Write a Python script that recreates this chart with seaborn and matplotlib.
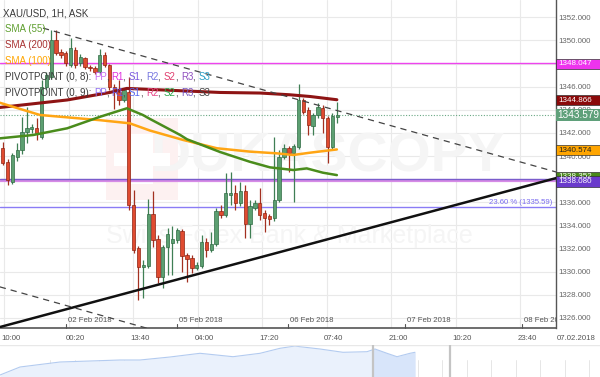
import matplotlib
matplotlib.use("Agg")
import matplotlib.pyplot as plt
import matplotlib.transforms as mtransforms
from matplotlib.patches import Rectangle
import numpy as np
import pandas as pd
import seaborn as sns

# ---------------- data ----------------
opens = [1340.67, 1339.51, 1337.78, 1339.94, 1340.52, 1342.10, 1342.31, 1342.40, 1341.67, 1346.00,
         1346.86, 1350.04, 1349.03, 1348.88, 1347.87, 1349.17, 1348.02, 1348.45, 1347.73, 1347.59,
         1347.30, 1348.74, 1347.87, 1346.00, 1345.57, 1344.85, 1345.57, 1335.76, 1332.00, 1330.43,
         1330.50, 1334.96, 1332.80, 1329.56, 1332.10, 1332.45, 1332.74, 1333.52, 1331.44, 1331.21,
         1330.34, 1330.49, 1332.59, 1331.87, 1332.36, 1335.27, 1334.90, 1336.60, 1336.83, 1335.91,
         1337.00, 1334.12, 1335.50, 1335.90, 1335.04, 1334.80, 1334.61, 1336.20, 1339.89, 1340.66,
         1340.23, 1340.81, 1344.85, 1343.98, 1342.60, 1343.55, 1344.13, 1343.26, 1340.81, 1343.35]
highs = [1341.24, 1339.70, 1340.30, 1341.10, 1343.40, 1344.27, 1342.80, 1343.26, 1346.58, 1347.30,
         1350.90, 1350.90, 1349.30, 1349.10, 1350.18, 1349.40, 1348.80, 1348.60, 1347.90, 1347.80,
         1349.30, 1349.03, 1348.00, 1346.20, 1346.58, 1345.90, 1346.86, 1337.06, 1332.20, 1331.00,
         1336.25, 1336.97, 1333.17, 1332.30, 1333.75, 1333.95, 1333.75, 1333.70, 1331.60, 1331.40,
         1330.80, 1333.17, 1332.88, 1333.46, 1335.47, 1335.76, 1338.50, 1338.65, 1337.50, 1337.78,
         1337.50, 1336.20, 1336.20, 1337.20, 1335.30, 1335.00, 1341.67, 1340.52, 1341.00, 1340.90,
         1341.00, 1346.23, 1345.00, 1344.20, 1343.70, 1344.55, 1344.40, 1343.50, 1343.70, 1344.70]
lows = [1339.20, 1337.49, 1337.60, 1339.60, 1340.20, 1341.10, 1342.00, 1341.38, 1341.50, 1345.80,
        1346.70, 1348.70, 1348.50, 1347.80, 1347.70, 1347.60, 1347.80, 1347.50, 1347.40, 1347.10,
        1347.10, 1347.70, 1345.70, 1344.10, 1344.40, 1344.70, 1335.33, 1331.60, 1327.55, 1327.69,
        1330.30, 1332.16, 1328.99, 1328.55, 1329.70, 1329.70, 1332.50, 1329.99, 1329.13, 1329.85,
        1330.10, 1330.30, 1331.30, 1331.70, 1332.20, 1334.60, 1334.70, 1335.76, 1335.30, 1335.70,
        1332.88, 1332.88, 1335.30, 1334.50, 1333.46, 1334.00, 1334.40, 1336.00, 1339.70, 1338.65,
        1336.05, 1340.60, 1343.60, 1341.80, 1341.80, 1343.30, 1341.96, 1339.37, 1340.60, 1342.85]
closes = [1339.37, 1337.93, 1340.09, 1340.52, 1342.10, 1342.40, 1342.48, 1341.96, 1346.00, 1347.00,
          1350.04, 1348.88, 1348.74, 1348.02, 1349.32, 1347.87, 1348.60, 1347.73, 1347.59, 1347.30,
          1348.74, 1347.87, 1346.00, 1345.57, 1344.85, 1345.71, 1335.77, 1331.87, 1330.43, 1330.57,
          1334.96, 1332.74, 1329.56, 1332.10, 1333.23, 1332.82, 1333.60, 1331.35, 1331.06, 1330.28,
          1330.57, 1332.59, 1331.87, 1332.39, 1335.27, 1334.90, 1336.77, 1336.83, 1335.97, 1337.00,
          1334.12, 1335.67, 1335.90, 1334.90, 1334.61, 1334.52, 1336.20, 1339.89, 1340.66, 1340.23,
          1340.87, 1344.85, 1343.84, 1342.68, 1343.55, 1344.27, 1343.26, 1340.81, 1343.46, 1343.58]

# moving averages read at selected bars (bar index, price)
sma55_bar = [-0.6, 6.3, 13.3, 20.1, 25.6, 28.9, 30.4, 36.6, 38.0, 44.8, 50.9, 55.1, 59.9, 62.7, 66.0, 68.9]
sma55_val = [1341.53, 1341.82, 1342.40, 1343.40, 1344.13, 1343.55, 1343.20, 1341.82, 1341.45, 1340.35,
             1339.51, 1339.02, 1338.79, 1338.93, 1338.56, 1338.35]
sma100_bar = [-0.6, 7.7, 20.1, 26.2, 30.4, 37.2, 44.2, 51.0, 56.6, 59.9, 63.4, 68.9]
sma100_val = [1344.61, 1343.55, 1343.10, 1342.83, 1342.20, 1341.39, 1340.67, 1340.38, 1340.23, 1340.09,
              1340.29, 1340.57]
sma200_bar = [-0.6, 13.3, 22.1, 25.6, 36.6, 44.8, 53.1, 59.2, 63.4, 68.9]
sma200_val = [1344.20, 1344.85, 1345.50, 1345.85, 1345.65, 1345.50, 1345.45, 1345.30, 1345.15, 1344.87]

# trend lines: (bar, price) end points
upper_dash = [(8.3, 1351.07), (114.1, 1338.62)]
lower_dash = [(-0.6, 1328.68), (45.0, 1323.30)]
support_line = [(-0.6, 1325.20), (114.1, 1338.09)]

# horizontal levels
pivot_r1 = 1348.047
pivot_s_a = 1338.05
pivot_s_b = 1337.82
fib_level = 1335.59
last_price = 1343.579

# right-side value tags: (text, price, face, text colour, height)
tags = [("1348.047", 1348.00, "#ee33ee", "white", 0.86),
        ("1344.866", 1344.82, "#8b0a0a", "white", 0.86),
        ("1340.574", 1340.52, "#ffa500", "#222222", 0.86),
        ("1338.352", 1338.20, "#4a8a1a", "white", 0.86),
        ("1338.080", 1337.80, "#6a3acc", "white", 1.00)]

y_ticks = [1326, 1328, 1330, 1332, 1334, 1336, 1338, 1340, 1342, 1344, 1346, 1348, 1350, 1352]
hidden_ticks = [1338, 1348]   # fully covered by value tags in the reference
time_labels = ["10:00", "00:20", "13:40", "04:00", "17:20", "07:40", "21:00", "10:20", "23:40"]
date_labels = ["02 Feb 2018", "05 Feb 2018", "06 Feb 2018", "07 Feb 2018", "08 Feb 2018"]
date_bars = [13.05, 35.9, 58.9, 82.95, 107.0]

nav_t = [0, 20, 60, 120, 140, 170, 200, 233, 260, 280, 295, 300, 320, 343, 367, 375, 387, 397, 410, 415]
nav_h = [2, 10, 15, 17, 17, 20, 23.7, 20.3, 23.7, 28.7, 31, 30.3, 28, 24.7, 25.3, 28, 23.7, 20.3, 23.7, 24.7]

# ---------------- style ----------------
sns.set_style("white")
plt.rcParams['font.family'] = ['Liberation Sans', 'DejaVu Sans']

W, H = 600, 377
fig = plt.figure(figsize=(W / 100, H / 100), dpi=100)
plot_w, plot_h = 556, 328
ax = fig.add_axes([0, 1 - plot_h / H, plot_w / W, plot_h / H])

def px2bar(px):
    return (px - 2.7) / 4.85

ax.set_xlim(px2bar(0), px2bar(plot_w))
ax.set_ylim(1325.12, 1353.5)

# grid
for yv in y_ticks:
    ax.axhline(yv, color="#e9e9e9", lw=0.8, zorder=0)
for k in range(9):
    ax.axvline(px2bar(4 + 64.5 * k), color="#e9e9e9", lw=0.8, zorder=0)

# watermark
ax.add_patch(Rectangle((0.19, 0.39), 0.13, 0.25, transform=ax.transAxes,
                       facecolor="#fdf1f1", edgecolor="none", zorder=0.5))
ax.add_patch(Rectangle((0.235, 0.44), 0.04, 0.15, transform=ax.transAxes,
                       facecolor="white", edgecolor="none", zorder=0.6))
ax.add_patch(Rectangle((0.205, 0.495), 0.1, 0.04, transform=ax.transAxes,
                       facecolor="white", edgecolor="none", zorder=0.6))
ax.text(0.59, 0.52, "DUKASCOPY", transform=ax.transAxes, ha="center", va="center",
        fontsize=40, fontweight="bold", color="#f5f5f5", zorder=0.5)
ax.text(0.52, 0.28, "Swiss Forex Bank & Marketplace", transform=ax.transAxes, ha="center",
        va="center", fontsize=18, color="#f5f5f5", zorder=0.5)

# horizontal levels
ax.axhline(pivot_r1, color="#ee44ee", lw=1.0, zorder=2)
ax.axhline(pivot_s_b, color="#d68be6", lw=1.6, zorder=2)
ax.axhline(pivot_s_a, color="#7a5ccc", lw=1.0, zorder=2)
ax.axhline(fib_level, color="#8a7cf5", lw=1.0, zorder=2)
ax.axhline(last_price, color="#6aa884", lw=0.8, ls=(0, (1, 1.5)), zorder=2)
ax.text(px2bar(552), fib_level + 0.12, "23.60 % (1335.59)", ha="right", va="bottom",
        fontsize=5.6, color="#7a6cf0", zorder=6)

# candles
df = pd.DataFrame({"o": opens, "h": highs, "l": lows, "c": closes})
df["bar"] = np.arange(len(df))
up = df["c"] >= df["o"]
green_face, green_edge = "#5c9f71", "#2f6b43"
red_face, red_edge = "#e04b30", "#8e2412"
ax.vlines(df["bar"], df["l"], df["h"], colors=np.where(up, "#3f7f54", "#a33020"), lw=0.9, zorder=3)
body_h = (df["c"] - df["o"]).abs().clip(lower=0.08)
ax.bar(df["bar"], body_h, bottom=df[["o", "c"]].min(axis=1), width=0.7,
       color=np.where(up, green_face, red_face), edgecolor=np.where(up, green_edge, red_edge),
       linewidth=0.5, zorder=4)

# moving averages
sns.lineplot(x=sma200_bar, y=sma200_val, ax=ax, color="#8e1414", lw=2.2, zorder=5)
sns.lineplot(x=sma100_bar, y=sma100_val, ax=ax, color="#ffa514", lw=1.8, zorder=5)
sns.lineplot(x=sma55_bar, y=sma55_val, ax=ax, color="#4a8c1c", lw=1.8, zorder=5)

# trend lines
for seg, style in [(upper_dash, dict(color="#444444", lw=0.9, ls=(0, (5, 4)))),
                   (lower_dash, dict(color="#444444", lw=0.9, ls=(0, (5, 4)))),
                   (support_line, dict(color="#111111", lw=1.8, ls="-"))]:
    ax.plot([seg[0][0], seg[1][0]], [seg[0][1], seg[1][1]], zorder=6, **style)

# axes / ticks
for s in ["left", "top"]:
    ax.spines[s].set_visible(False)
ax.spines["bottom"].set_color("#555555")
ax.spines["bottom"].set_linewidth(1.2)
ax.spines["right"].set_color("#555555")
ax.spines["right"].set_linewidth(1.0)
ax.yaxis.tick_right()
ax.set_yticks(y_ticks)
ax.set_yticklabels(["" if v in hidden_ticks else f"{v:.3f}" for v in y_ticks])
ax.tick_params(axis="y", length=0, pad=2, labelsize=5.7, labelcolor="#666666")
ax.set_xticks([px2bar(11 + 64.5 * k) for k in range(len(time_labels))])
ax.set_xticklabels(time_labels)
ax.tick_params(axis="x", length=0, pad=5, labelsize=5.6, labelcolor="#555555")
ax.set_xlabel("")
ax.set_ylabel("")

# date labels inside plot
blend = mtransforms.blended_transform_factory(ax.transData, ax.transAxes)
for lab, b in zip(date_labels, date_bars):
    ax.plot([b, b], [0, 0.012], transform=blend, color="#555555", lw=0.8, zorder=7, clip_on=False)
    ax.text(b + 0.4, 0.012, lab, transform=blend, ha="left", va="bottom", fontsize=5.6,
            color="#555555", zorder=7, clip_on=True)

# value tags on the right axis
tblend = mtransforms.blended_transform_factory(ax.transAxes, ax.transData)
for txt, val, fc, tc, hh in tags:
    ax.add_patch(Rectangle((1.0, val - hh / 2), 44 / plot_w, hh, transform=tblend, clip_on=False,
                           facecolor=fc, edgecolor="#333333", lw=0.5, zorder=10))
    ax.text(1.0 + 2 / plot_w, val, txt, transform=tblend, ha="left", va="center", fontsize=5.8,
            color=tc, zorder=11, clip_on=False)
ax.add_patch(Rectangle((1.0, last_price - 0.52), 44 / plot_w, 1.04, transform=tblend, clip_on=False,
                       facecolor="#5fa07a", edgecolor="none", zorder=10))
ax.text(1.0 + 1 / plot_w, last_price, f"{last_price:.3f}", transform=tblend, ha="left", va="center",
        fontsize=7.2, color="white", zorder=11, clip_on=False)

fig.text(557 / W, 1 - 339 / H, "07.02.2018", ha="left", va="center", fontsize=5.6, color="#555555")

# legend block (multi-coloured text)
renderer = fig.canvas.get_renderer()

def text_w(s, fs):
    t = fig.text(0, 0, s, fontsize=fs)
    w = t.get_window_extent(renderer=renderer).width
    t.remove()
    return w

def rich(x_px, y_px, parts, fs=7):
    prefix = ""
    for s, c in parts:
        off = (text_w(prefix + "l", fs) - text_w("l", fs)) if prefix else 0.0
        fig.text((x_px + off) / W, 1 - y_px / H, s, fontsize=fs, color=c, ha="left", va="center",
                 zorder=20)
        prefix += s

g = "#3a3a3a"
rich(3, 13, [("XAU/USD, 1H, ASK", g)])
rich(5, 29, [("SMA (55)", "#5e9e2e")])
rich(5, 45, [("SMA (200)", "#a83232")])
rich(5, 61, [("SMA (100)", "#ffa500")])
rich(5, 77, [("PIVOTPOINT (0, 8): ", g), ("PP", "#c86cf0"), (", ", g), ("R1", "#e030e0"), (", ", g),
             ("S1", "#7a58e0"), (", ", g), ("R2", "#7878e0"), (", ", g), ("S2", "#e04070"), (", ", g),
             ("R3", "#9050c0"), (", ", g), ("S3", "#2aa0c8")])
rich(5, 93, [("PIVOTPOINT (0, 9): ", g), ("PP", "#9070f0"), (", ", g), ("R1", "#6a5ae0"), (", ", g),
             ("S1", "#5a6af0"), (", ", g), ("R2", "#e84a8a"), (", ", g), ("S2", "#2aa84a"), (", ", g),
             ("R3", "#7858c0"), (", ", g), ("S3", "#444444")])

# navigator
ax2 = fig.add_axes([0, 0, 1, 32 / H])
ax2.set_xlim(0, W)
ax2.set_ylim(0, 32)
ax2.axis("off")
nav = pd.DataFrame({"t": nav_t, "h": nav_h})
ax2.fill_between(nav["t"], 0, nav["h"], color="#eaf1fc", lw=0, zorder=1)
sel = nav[nav["t"] >= 372]
sel_x = [372.5] + list(sel["t"])
sel_y = [float(np.interp(372.5, nav_t, nav_h))] + list(sel["h"])
ax2.fill_between(sel_x, 0, sel_y, color="#d8e5fa", lw=0, zorder=1.5)
sns.lineplot(data=nav, x="t", y="h", ax=ax2, color="#b3cbf0", lw=0.8, zorder=2)
for k in range(23):
    ax2.plot([50 + 24.5 * k] * 2, [0, 17], color="#e6e6e6", lw=0.7, zorder=0.5)
ax2.axhline(32, color="#e8e8e8", lw=1.0)
for xh in (372.5, 450):
    ax2.axvline(xh, color="#c4c4c4", lw=1.6, zorder=3)
ax2.set_xlabel("")
ax2.set_ylabel("")

fig.savefig("out.png", dpi=100)
